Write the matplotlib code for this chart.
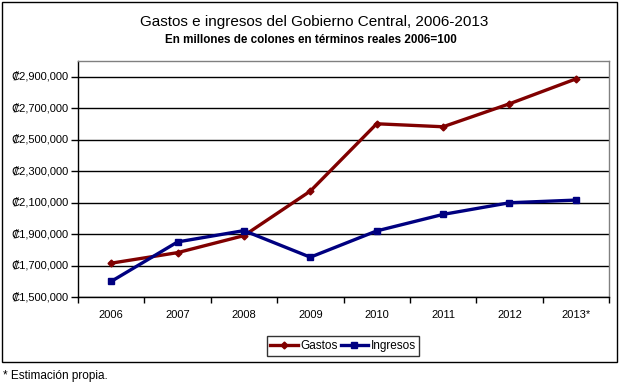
import matplotlib
matplotlib.use("Agg")
import matplotlib.pyplot as plt
from matplotlib.patches import Rectangle
from matplotlib.ticker import FuncFormatter, FixedLocator

plt.rcParams['font.family'] = ['Liberation Sans', 'DejaVu Sans']

years = ["2006", "2007", "2008", "2009", "2010", "2011", "2012", "2013*"]
gastos = [1715000, 1782000, 1890000, 2173000, 2601000, 2582000, 2728000, 2886000]
ingresos = [1599000, 1850000, 1922000, 1753000, 1920000, 2025000, 2099000, 2116000]
yticks = [1500000, 1700000, 1900000, 2100000, 2300000, 2500000, 2700000, 2900000]

W, H = 621, 390
fig = plt.figure(figsize=(W / 100, H / 100), dpi=100)
ax = fig.add_axes([78 / W, (H - 297) / H, 531 / W, 236 / H])

x = list(range(len(years)))
ax.plot(x, gastos, color='#800000', lw=2.4, marker='D', ms=3.5, label='Gastos')
ax.plot(x, ingresos, color='#000080', lw=2.4, marker='s', ms=4, label='Ingresos')

ax.set_xlim(-0.5, len(years) - 0.5)
ax.set_ylim(1500000, 3000000)
ax.set_yticks(yticks)
ax.yaxis.set_major_formatter(FuncFormatter(lambda v, p: '\u20a1{:,.0f}'.format(v)))
ax.grid(axis='y', color='black', lw=1)
ax.set_axisbelow(True)

ax.set_xticks(x)
ax.set_xticklabels(years)
ax.xaxis.set_minor_locator(FixedLocator([i - 0.5 for i in range(len(years) + 1)]))
ax.tick_params(axis='x', which='major', length=0, pad=9, labelsize=8)
ax.tick_params(axis='x', which='minor', length=4, width=1, direction='out', color='black')
ax.tick_params(axis='y', length=5, width=1, direction='out', labelsize=8, pad=2)

for s in ['left', 'bottom']:
    ax.spines[s].set_color('black')
    ax.spines[s].set_linewidth(1)
for s in ['top', 'right']:
    ax.spines[s].set_color('#808080')
    ax.spines[s].set_linewidth(1)

fig.text(314 / W, 1 - 22 / H, 'Gastos e ingresos del Gobierno Central, 2006-2013',
         ha='center', va='center', fontsize=11)
fig.text(311 / W, 1 - 40 / H, 'En millones de colones en términos reales 2006=100',
         ha='center', va='center', fontsize=8.4, fontweight='bold')

leg = fig.legend(loc='center', bbox_to_anchor=(343 / W, 1 - 346 / H), ncol=2,
                 frameon=True, fancybox=False, fontsize=8.5, handlelength=2.3,
                 columnspacing=0.3, handletextpad=0.2, borderpad=0.3,
                 borderaxespad=0)
leg.get_frame().set_edgecolor('black')
leg.get_frame().set_linewidth(1)

fig.patches.append(Rectangle((2 / W, 28 / H), 615 / W, 360 / H, transform=fig.transFigure,
                             fill=False, edgecolor='black', lw=1))

fig.text(3 / W, 14 / H, '* Estimación propia.', ha='left', va='center', fontsize=8.5)

fig.savefig('out.png', dpi=100)
